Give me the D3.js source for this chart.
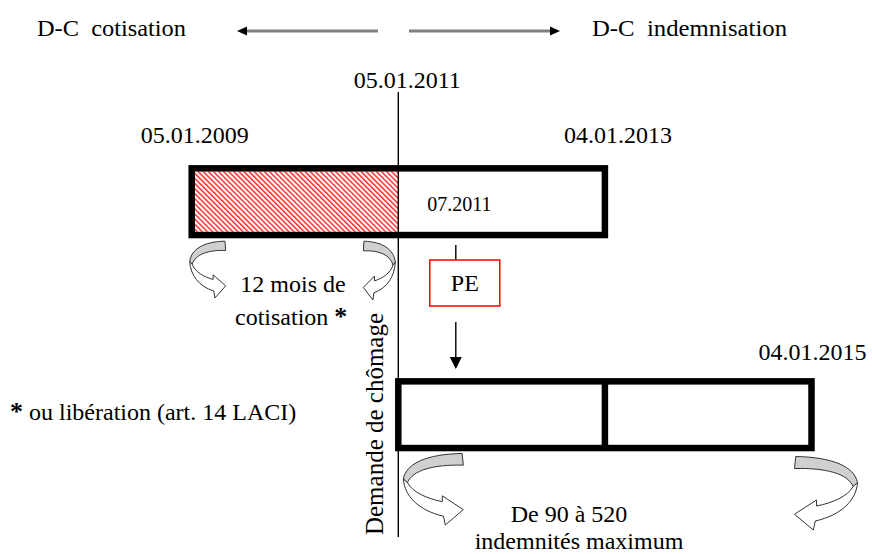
<!DOCTYPE html>
<html><head><meta charset="utf-8">
<script src="https://cdn.jsdelivr.net/npm/d3@7"></script>
<style>
body{margin:0;background:#fff}
svg{display:block}
text{fill:#000;white-space:pre}
</style></head><body>
<svg id="c" width="872" height="554" font-family="'Liberation Serif', Tinos, 'Times New Roman', 'DejaVu Serif', serif"></svg>
<script>
// ---- data ----
const headerLabels = ["D-C  cotisation", "D-C  indemnisation"];
const topBarDates = ["05.01.2009", "05.01.2011", "04.01.2013"];   // start, demande, end
const lowerBarDates = ["05.01.2011", "04.01.2013", "04.01.2015"]; // start, split, end
const demandeDate = "05.01.2011";
const peLabel = "07.2011";
const rows = ["cotisation", "indemnisation"];
const cotisationNote = ["12 mois de", "cotisation "];
const indemnNote = ["De 90 à 520", "indemnités maximum"];
const footNote = " ou libération (art. 14 LACI)";
const star = "*";
const demandeLabel = "Demande de chômage";
const boxLabel = "PE";

// ---- scales ----
const parse = d3.timeParse("%d.%m.%Y");
const x = d3.scaleTime()
  .domain([parse(topBarDates[0]), parse(lowerBarDates[2])])
  .range([191.7, 811.5]);
const y = d3.scalePoint().domain(rows).range([201.7, 414.7]);
const barH = 66.7, bw = 6.5;

const svg = d3.select("#c");
const defs = svg.append("defs");
const pat = defs.append("pattern").attr("id", "hatch")
  .attr("patternUnits", "userSpaceOnUse").attr("width", 3.6).attr("height", 3.6)
  .attr("patternTransform", "rotate(-45)");
pat.append("rect").attr("width", 3.6).attr("height", 3.6).attr("fill", "#fff");
pat.append("rect").attr("width", 1.5).attr("height", 3.6).attr("fill", "#ff2a2a");

function txt(xx, yy, s, size, anchor) {
  return svg.append("text").attr("x", xx).attr("y", yy).attr("font-size", size)
    .attr("text-anchor", anchor || "start")
    .attr("font-family", "'Liberation Serif', Tinos, 'Times New Roman', 'DejaVu Serif', serif")
    .text(s);
}

// ---- header ----
txt(37, 36, headerLabels[0], 24).attr("textLength", 149).attr("lengthAdjust", "spacingAndGlyphs");
txt(592, 36, headerLabels[1], 24).attr("textLength", 195).attr("lengthAdjust", "spacingAndGlyphs");
function hArrow(x1, x2, yy) { // from x1 to tip x2
  const dir = Math.sign(x2 - x1);
  svg.append("line").attr("x1", x1).attr("x2", x2 - dir * 8).attr("y1", yy).attr("y2", yy)
    .attr("stroke", "#808080").attr("stroke-width", 3.2);
  svg.append("path").attr("d", `M${x2},${yy} L${x2 - dir * 10},${yy - 4.5} L${x2 - dir * 10},${yy + 4.5} Z`)
    .attr("fill", "#000");
}
hArrow(378, 237, 31);
hArrow(409, 560, 31);

// ---- dates ----
const xd = x(parse(demandeDate));
txt(xd + 9, 88, demandeDate, 24, "middle");
txt(x(parse(topBarDates[0])) + 3, 143, topBarDates[0], 24, "middle");
txt(x(parse(topBarDates[2])) + 13, 143, topBarDates[2], 24, "middle");
txt(x(parse(lowerBarDates[2])) + 1, 360, lowerBarDates[2], 24, "middle");

// ---- top bar ----
const ty = y("cotisation");
svg.append("rect")
  .attr("x", x(parse(topBarDates[0])) + bw / 2).attr("y", ty - barH / 2 + bw / 2)
  .attr("width", x(parse(topBarDates[1])) - x(parse(topBarDates[0])) - bw / 2)
  .attr("height", barH - bw).attr("fill", "url(#hatch)");
svg.append("rect")
  .attr("x", x(parse(topBarDates[0]))).attr("y", ty - barH / 2)
  .attr("width", x(parse(topBarDates[2])) - x(parse(topBarDates[0]))).attr("height", barH)
  .attr("fill", "none").attr("stroke", "#000").attr("stroke-width", bw);
txt(xd + 29, ty + 9, peLabel, 20);

// ---- lower bar ----
const ly = y("indemnisation");
svg.append("rect")
  .attr("x", x(parse(lowerBarDates[0]))).attr("y", ly - barH / 2)
  .attr("width", x(parse(lowerBarDates[2])) - x(parse(lowerBarDates[0]))).attr("height", barH)
  .attr("fill", "none").attr("stroke", "#000").attr("stroke-width", bw);
svg.append("line").attr("x1", x(parse(lowerBarDates[1]))).attr("x2", x(parse(lowerBarDates[1])))
  .attr("y1", ly - barH / 2).attr("y2", ly + barH / 2).attr("stroke", "#000").attr("stroke-width", bw);

// ---- demande line ----
svg.append("line").attr("x1", xd).attr("x2", xd).attr("y1", 92).attr("y2", 537)
  .attr("stroke", "#000").attr("stroke-width", 1.4);
txt(0, 0, demandeLabel, 25, "middle")
  .attr("transform", `translate(${xd - 15},424) rotate(-90)`);

// ---- PE box ----
const px = xd + 57.5;
svg.append("line").attr("x1", px).attr("x2", px).attr("y1", 245).attr("y2", 260)
  .attr("stroke", "#000").attr("stroke-width", 1.4);
svg.append("rect").attr("x", px - 26).attr("y", 260).attr("width", 70).attr("height", 46)
  .attr("fill", "#fff").attr("stroke", "#ff0000").attr("stroke-width", 1.5);
txt(px + 9, 291, boxLabel, 24, "middle");
svg.append("line").attr("x1", px).attr("x2", px).attr("y1", 322).attr("y2", 358)
  .attr("stroke", "#000").attr("stroke-width", 1.4);
svg.append("path").attr("d", `M${px},369 L${px - 6},357 L${px + 6},357 Z`).attr("fill", "#000");

// ---- curved arrows ----
function curved(x0, y0, w, h, flip) {
  const P = (u, v) => [(flip ? x0 + w - u * w : x0 + u * w).toFixed(2), (y0 + v * h).toFixed(2)].join(",");
  const gray = `M${P(0.98,0.02)} L${P(1,0.18)} C${P(0.5,0.17)} ${P(0.15,0.25)} ${P(0.07,0.42)} L${P(0,0.37)} C${P(0.05,0.15)} ${P(0.4,0.03)} ${P(0.98,0.02)} Z`;
  const white = `M${P(0,0.37)} C${P(0.02,0.6)} ${P(0.25,0.8)} ${P(0.67,0.88)} L${P(0.7,1)} L${P(1,0.79)} L${P(0.65,0.6)} L${P(0.65,0.68)} C${P(0.4,0.64)} ${P(0.15,0.55)} ${P(0.07,0.42)} Z`;
  svg.append("path").attr("d", gray).attr("fill", "#d0d0d0").attr("stroke", "#333").attr("stroke-width", 1);
  svg.append("path").attr("d", white).attr("fill", "#fff").attr("stroke", "#333").attr("stroke-width", 1);
}
const ax0 = x(parse(topBarDates[0])), ax1 = x(parse(topBarDates[1]));
curved(ax0 - 2, 240, 36, 58, false);
curved(ax1 - 35, 240, 32, 60, true);
const bx0 = x(parse(lowerBarDates[0])), bx2 = x(parse(lowerBarDates[2]));
curved(bx0 + 5, 452, 60, 73, false);
curved(bx2 - 17, 455, 63, 75, true);

// ---- notes ----
txt(293, 292, cotisationNote[0], 24, "middle");
const c2 = txt(235, 325, cotisationNote[1], 24);
c2.append("tspan").attr("font-weight", "bold").attr("font-size", 26).text(star);
const fn = txt(10, 420, "", 24);
fn.append("tspan").attr("font-weight", "bold").attr("font-size", 26).text(star);
fn.append("tspan").text(footNote);
txt(569, 522, indemnNote[0], 24, "middle");
txt(579, 549, indemnNote[1], 24, "middle");
</script></body></html>
